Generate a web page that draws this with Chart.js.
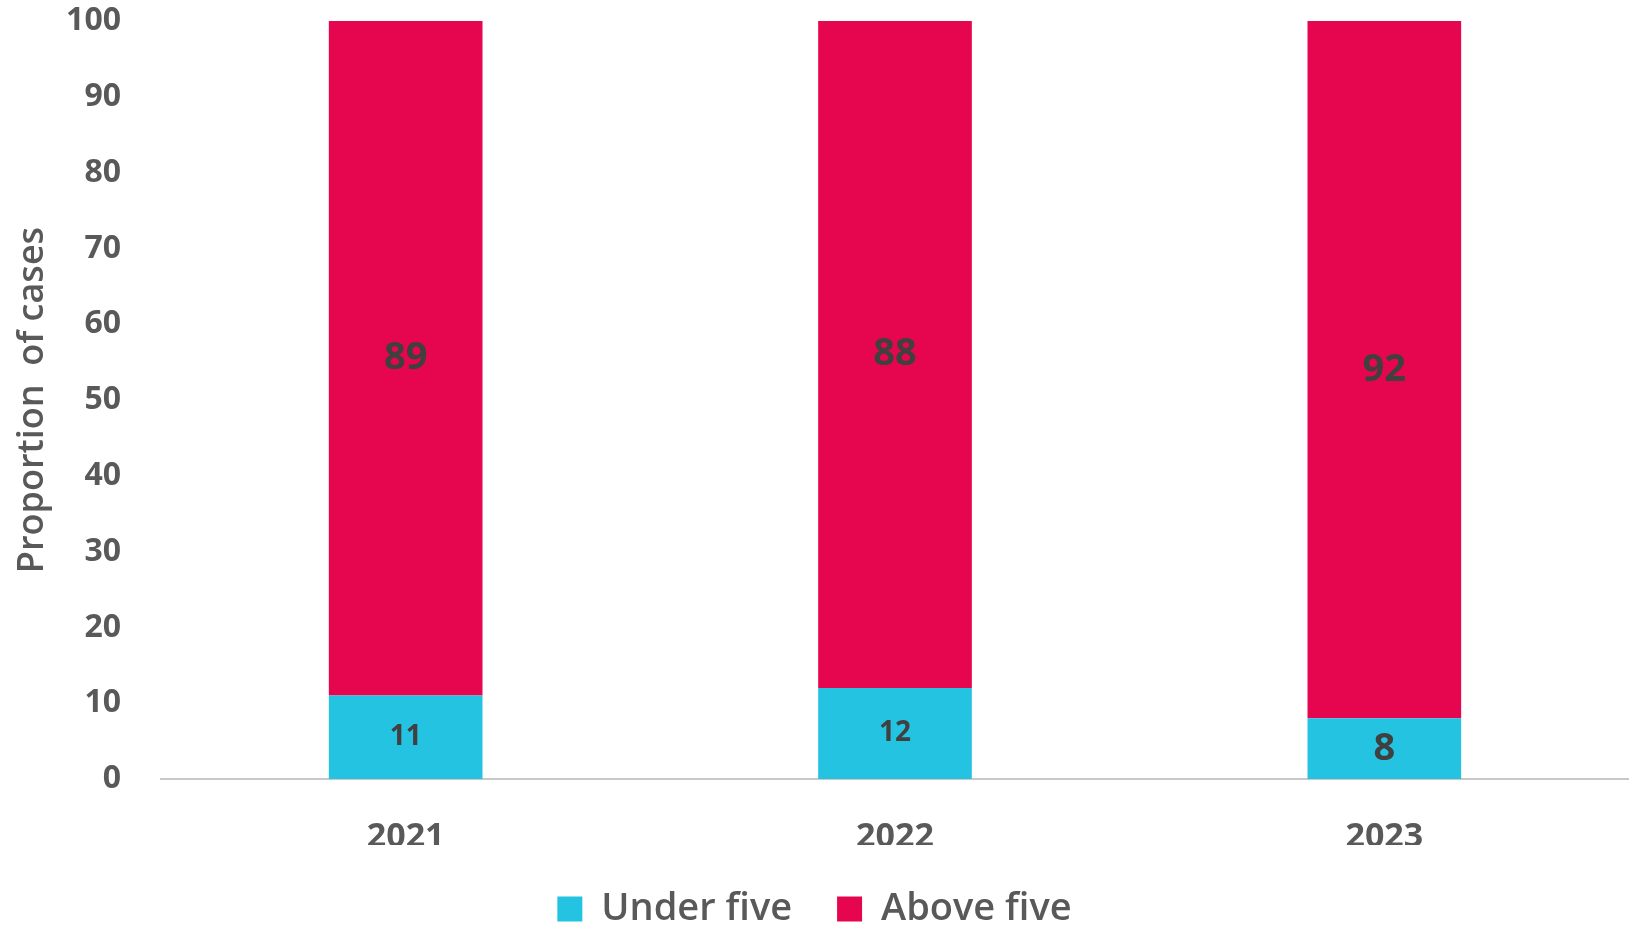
<!DOCTYPE html>
<html>
<head>
<meta charset="utf-8">
<script src="https://cdn.jsdelivr.net/npm/chart.js@4.4.1/dist/chart.umd.min.js"></script>
<style>
  html, body { margin: 0; padding: 0; background: #fff; }
  canvas { display: block; }
</style>
</head>
<body>
<canvas id="chart" width="1629" height="927"></canvas>
<script>
// proportion of cases by age group, per year
var years = ['2021', '2022', '2023'];
var underFive = [11, 12, 8];
var aboveFive = [89, 88, 92];
var yTicks = [0, 10, 20, 30, 40, 50, 60, 70, 80, 90, 100];

var GREY = '#595959';
var FONT = '"Open Sans", "Noto Sans", sans-serif';

// writes each segment's value in the middle of its bar piece
var barValues = {
    id: 'barValues',
    afterDatasetsDraw: function (chart) {
        var ctx = chart.ctx;
        ctx.save();
        ctx.textAlign = 'center';
        ctx.textBaseline = 'middle';
        ctx.fillStyle = '#404040';
        chart.data.datasets.forEach(function (ds, i) {
            var meta = chart.getDatasetMeta(i);
            meta.data.forEach(function (bar, j) {
                var size = (i === 0 && j < 2) ? 28 : 38;
                ctx.font = 'bold ' + size + 'px ' + FONT;
                ctx.fillText(String(ds.data[j]), bar.x, (bar.y + bar.base) / 2);
            });
        });
        ctx.restore();
    }
};

const ctx = document.getElementById('chart').getContext('2d');
const myChart = new Chart(ctx, {
    type: 'bar',
    data: {
        labels: years,
        datasets: [{
            label: 'Under five',
            data: underFive,
            backgroundColor: '#25C3E2',
            borderWidth: 0
        }, {
            label: 'Above five',
            data: aboveFive,
            backgroundColor: '#E6064F',
            borderWidth: 0
        }]
    },
    options: {
        responsive: false,
        animation: false,
        devicePixelRatio: 1,
        layout: { padding: { top: 21, right: 0, bottom: -11, left: 0 } },
        datasets: {
            bar: { categoryPercentage: 1, barPercentage: 0.314 }
        },
        plugins: {
            tooltip: { enabled: false },
            legend: {
                position: 'bottom',
                labels: {
                    color: GREY,
                    font: { family: FONT, size: 38, weight: '600' },
                    boxWidth: 25,
                    boxHeight: 25,
                    padding: 45
                }
            }
        },
        scales: {
            x: {
                stacked: true,
                grid: { display: false, drawTicks: false },
                border: { display: true, color: '#C8C8C8', width: 2 },
                ticks: {
                    color: GREY,
                    font: { family: FONT, size: 34, weight: 'bold' },
                    padding: 38
                },
                afterFit: function (scale) {
                    scale.height = 66;
                    scale.paddingLeft = 0;
                    scale.paddingRight = 0;
                }
            },
            y: {
                stacked: true,
                min: 0,
                max: 100,
                grid: { display: false, drawTicks: false },
                border: { display: false },
                afterBuildTicks: function (scale) {
                    scale.ticks = yTicks.map(function (v) { return { value: v }; });
                },
                ticks: {
                    color: GREY,
                    font: { family: FONT, size: 32, weight: 'bold' },
                    padding: 40
                },
                title: {
                    display: true,
                    text: 'Proportion  of cases',
                    color: GREY,
                    font: { family: FONT, size: 36, weight: '600' },
                    padding: { top: 11, bottom: 0 }
                },
                afterFit: function (scale) {
                    scale.width = 161;
                    scale.paddingTop = 0;
                    scale.paddingBottom = 0;
                }
            }
        }
    },
    plugins: [barValues]
});
</script>
</body>
</html>
